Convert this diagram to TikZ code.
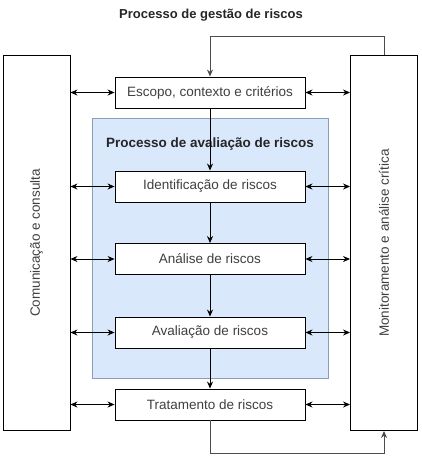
\documentclass[tikz,border=0pt]{standalone}
\usepackage{fontspec}
\setmainfont{Liberation Sans}
\usetikzlibrary{arrows.meta}
\definecolor{bluefill}{HTML}{DAE8FC}
\definecolor{blueline}{HTML}{8C9DB5}
\tikzset{
  box/.style={draw=black, fill=white, line width=0.9pt, minimum width=190pt, minimum height=31pt, inner sep=0pt, font=\fontsize{13.5}{15}\selectfont, text=black!75},
  side/.style={draw=black, fill=white, line width=0.9pt, minimum width=67pt, minimum height=375pt, inner sep=0pt},
  conn/.style={line width=0.9pt, -{Stealth[length=7pt,width=6pt]}},
  dconn/.style={line width=0.9pt, {Stealth[length=7pt,width=6pt]}-{Stealth[length=7pt,width=6pt]}},
  feed/.style={line width=0.9pt, draw=black!70, -{Stealth[length=7pt,width=6pt]}}
}
\begin{document}
\begin{tikzpicture}[x=1pt,y=-1pt]
\useasboundingbox (0,0) rectangle (422,456);
\node[font=\bfseries\fontsize{13}{15}\selectfont, text=black!85] (title) at (211,15) {Processo de gestão de riscos};
\node[draw=blueline, fill=bluefill, line width=0.8pt, minimum width=236pt, minimum height=260pt, inner sep=0pt] (aval) at (210,248) {};
\node[font=\bfseries\fontsize{13.5}{15}\selectfont, text=black!85] (avaltitle) at (210,144) {Processo de avaliação de riscos};
\node[side] (com) at (36.5,243) {};
\node[rotate=90, font=\fontsize{13.5}{15}\selectfont, text=black!75] (comt) at (36.5,243) {Comunicação e consulta};
\node[side] (mon) at (384,243) {};
\node[rotate=90, font=\fontsize{13.5}{15}\selectfont, text=black!75] (mont) at (384,243) {Monitoramento e análise crítica};
\node[box] (esc) at (210,92.5) {Escopo, contexto e critérios};
\node[box] (ide) at (210,186.5) {Identificação de riscos};
\node[box] (ana) at (210,259) {Análise de riscos};
\node[box] (avl) at (210,332.5) {Avaliação de riscos};
\node[box] (tra) at (210,404.5) {Tratamento de riscos};
\draw[conn] (esc) -- (ide);
\draw[conn] (ide) -- (ana);
\draw[conn] (ana) -- (avl);
\draw[conn] (avl) -- (tra);
\foreach \n in {esc,ide,ana,avl,tra}{
  \draw[dconn] (com.east |- \n.west) -- (\n.west);
  \draw[dconn] (\n.east) -- (mon.west |- \n.east);
}
\coordinate (t1) at (mon.north |- 0,36);
\draw[feed] (mon.north) -- (t1) -- (esc.north |- t1) -- (esc.north);
\coordinate (b1) at (tra.south |- 0,453);
\draw[feed] (tra.south) -- (b1) -- (mon.south |- b1) -- (mon.south);
\end{tikzpicture}
\end{document}
